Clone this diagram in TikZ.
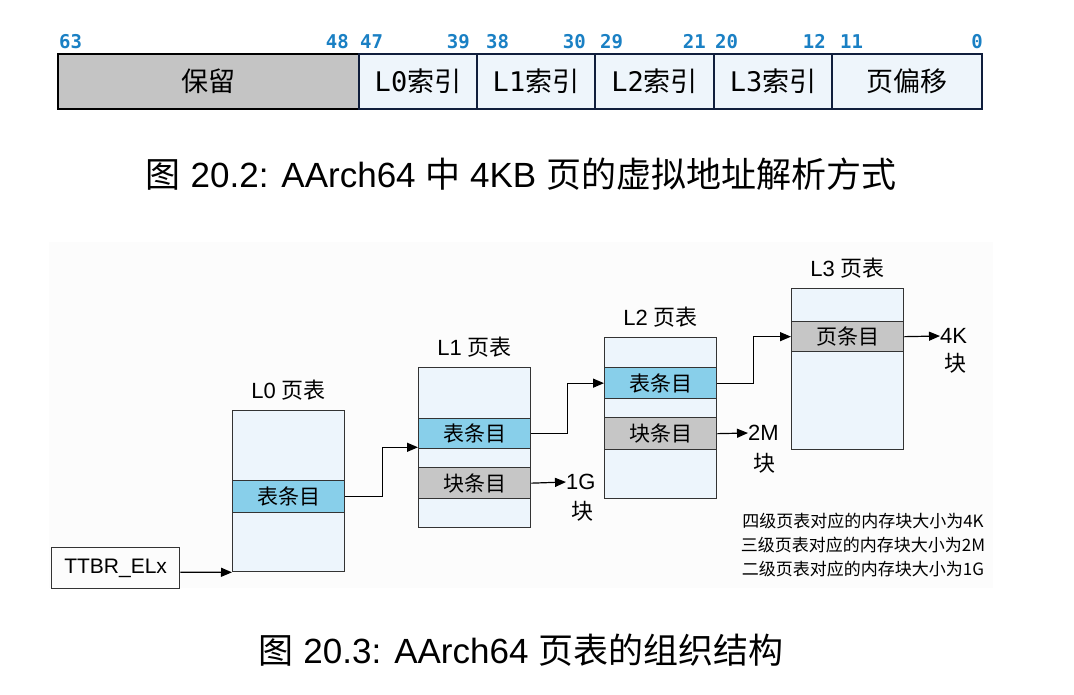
\documentclass[tikz,border=0pt]{standalone}
\usepackage{fontspec}
\setmainfont{Liberation Sans}
\newfontfamily\cjk{Noto Sans CJK SC}
\newfontfamily\mono{DejaVu Sans Mono}
\usetikzlibrary{arrows.meta,positioning}
\definecolor{bitblue}{HTML}{1A80C4}
\definecolor{cellfill}{HTML}{EEF5FB}
\definecolor{cellgray}{HTML}{C4C4C4}
\definecolor{navy}{HTML}{101E3C}
\definecolor{tblfill}{HTML}{EDF5FC}
\definecolor{entblue}{HTML}{88CFEA}
\definecolor{entgray}{HTML}{C6C6C6}
\definecolor{bgfaint}{HTML}{FCFCFC}
\tikzset{
  cell/.style={draw=navy, fill=cellfill, line width=2pt, minimum height=55pt, inner sep=0pt, anchor=north west,
    font=\fontsize{27}{30}\selectfont},
  bitnum/.style={text=bitblue, inner sep=0pt, font=\mono\bfseries\fontsize{19}{22}\selectfont},
  tbl/.style={draw=black!80, fill=tblfill, line width=1.3pt, minimum width=112pt, inner sep=0pt, anchor=north west},
  entry/.style={draw=black!80, line width=1.3pt, minimum width=112pt, inner sep=0pt, anchor=north west,
    font=\cjk\fontsize{21}{24}\selectfont},
  tlabel/.style={inner sep=0pt, font=\fontsize{22}{24}\selectfont},
  blk/.style={inner sep=0pt, font=\fontsize{22}{24}\selectfont},
  arr/.style={line width=1.2pt, -{Triangle[length=11pt,width=9pt]}},
  caption/.style={inner sep=0pt, font=\fontsize{35}{38}\selectfont}
}
\begin{document}
\begin{tikzpicture}[x=1pt,y=-1pt]
\useasboundingbox (0,0) rectangle (1074,694);
% ---- top: address layout ----
\node[cell, fill=cellgray, draw=black, minimum width=301pt] (res) at (57,53) {\cjk 保留};
\node[cell, minimum width=118pt] (i0) at (358,53) {{\mono L0}{\cjk 索引}};
\node[cell, minimum width=118pt] (i1) at (476,53) {{\mono L1}{\cjk 索引}};
\node[cell, minimum width=119pt] (i2) at (594,53) {{\mono L2}{\cjk 索引}};
\node[cell, minimum width=118pt] (i3) at (713,53) {{\mono L3}{\cjk 索引}};
\node[cell, minimum width=150pt] (off) at (831,53) {\cjk 页偏移};
\node[bitnum, anchor=base west] (b63) at (59,48) {63};
\node[bitnum, anchor=base east] (b48) at (349,48) {48};
\node[bitnum, anchor=base west] (b47) at (360,48) {47};
\node[bitnum, anchor=base east] (b39) at (470,48) {39};
\node[bitnum, anchor=base west] (b38) at (486,48) {38};
\node[bitnum, anchor=base east] (b30) at (586,48) {30};
\node[bitnum, anchor=base west] (b29) at (600,48) {29};
\node[bitnum, anchor=base east] (b21) at (706,48) {21};
\node[bitnum, anchor=base west] (b20) at (715,48) {20};
\node[bitnum, anchor=base east] (b12) at (826,48) {12};
\node[bitnum, anchor=base west] (b11) at (840,48) {11};
\node[bitnum, anchor=base east] (b0) at (983,48) {0};
\node[caption] (cap1) at (521,174) {{\cjk 图} 20.2: AArch64 {\cjk 中} 4KB {\cjk 页的虚拟地址解析方式}};
% ---- bottom: page tables ----
\fill[bgfaint] (49,242) rectangle (993,588);
\node[tbl, minimum height=161pt] (l0) at (232,410) {};
\node[tbl, minimum height=160pt] (l1) at (418,367) {};
\node[tbl, minimum height=161pt] (l2) at (604,337) {};
\node[tbl, minimum height=161pt] (l3) at (791,288) {};
\node[tlabel, above=9pt of l0] (l0lab) {L0 {\cjk 页表}};
\node[tlabel, above=9pt of l1] (l1lab) {L1 {\cjk 页表}};
\node[tlabel, above=9pt of l2] (l2lab) {L2 {\cjk 页表}};
\node[tlabel, above=9pt of l3] (l3lab) {L3 {\cjk 页表}};
\node[entry, fill=entblue, minimum height=32pt] (l0t) at (232,480) {表条目};
\node[entry, fill=entblue, minimum height=30pt] (l1t) at (418,418) {表条目};
\node[entry, fill=entgray, minimum height=31pt] (l1b) at (418,467) {块条目};
\node[entry, fill=entblue, minimum height=31pt] (l2t) at (604,367) {表条目};
\node[entry, fill=entgray, minimum height=32pt] (l2b) at (604,417) {块条目};
\node[entry, fill=entgray, minimum height=30pt] (l3p) at (791,321) {页条目};
\node[draw=black!80, line width=1.3pt, minimum width=128pt, minimum height=41pt, inner sep=0pt, anchor=north west,
  font=\fontsize{21}{24}\selectfont] (ttbr) at (51,547) {TTBR\_ELx};
\node[blk, anchor=west] (g1) at (566,482) {1G};
\node[blk] (g1b) at (582,511) {\cjk 块};
\node[blk, anchor=west] (m2) at (748,433) {2M};
\node[blk] (m2b) at (764,463) {\cjk 块};
\node[blk, anchor=west] (k4) at (940,336) {4K};
\node[blk] (k4b) at (955,363) {\cjk 块};
\draw[arr] ([yshift=-4pt]ttbr.east) -- (l0.south west);
\draw[arr] (l0t.east) -- ++(37,0) |- ([yshift=2pt]l1t.south west);
\draw[arr] (l1t.east) -- ++(36,0) |- (l2t.west);
\draw[arr] (l2t.east) -- ++(36,0) |- (l3p.west);
\draw[arr] (l1b.east) -- (g1.west);
\draw[arr] (l2b.east) -- (m2.west);
\draw[arr] (l3p.east) -- (k4.west);
\node[inner sep=0pt, align=center, font=\cjk\fontsize{17}{24}\selectfont] (note) at (863,545)
  {四级页表对应的内存块大小为4K\\三级页表对应的内存块大小为2M\\二级页表对应的内存块大小为1G};
\node[caption] (cap2) at (521,650) {{\cjk 图} 20.3: AArch64 {\cjk 页表的组织结构}};
\end{tikzpicture}
\end{document}
